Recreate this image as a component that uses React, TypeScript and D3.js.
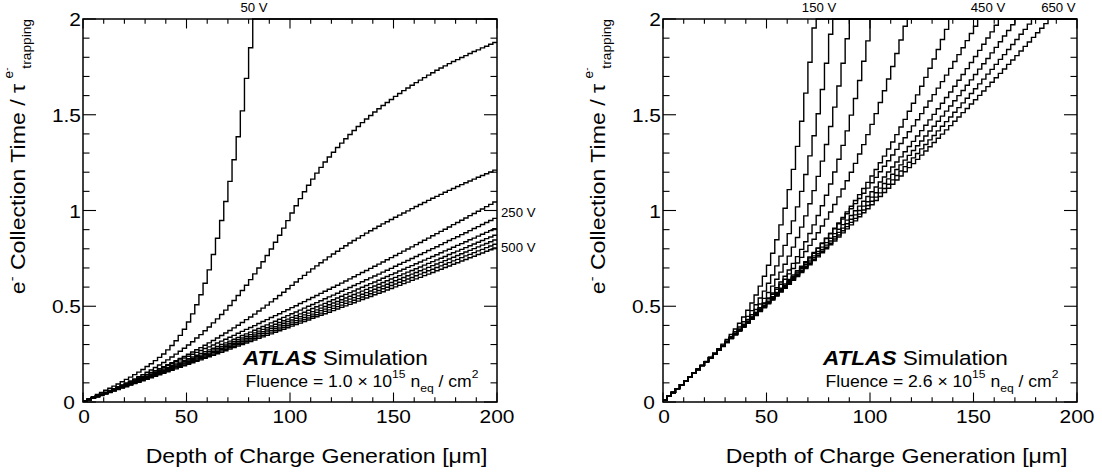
import React from "react";
import * as d3 from "d3";

// ---------- axes ----------
const xTickValues = [0, 50, 100, 150, 200];
const xTickLabels = ["0", "50", "100", "150", "200"];
const yTickValues = [0, 0.5, 1, 1.5, 2];
const yTickLabels = ["0", "0.5", "1", "1.5", "2"];
const binWidth = 2; // μm per histogram bin
const depthMax = 200;
const ratioMax = 2;

// ---------- left panel: fluence 1.0e15 (bin centres 1,3,5,... μm) ----------
const leftVoltages = [50, 100, 150, 200, 250, 300, 350, 400, 450, 500];
const L_050V = [0.006,0.017,0.028,0.039,0.05,0.061,0.072,0.083,0.094,0.106,0.118,0.13,0.143,0.156,0.17,0.185,0.2,0.216,0.233,0.251,0.272,0.295,0.32,0.348,0.38,0.418,0.46,0.508,0.56,0.62,0.69,0.77,0.855,0.948,1.047,1.152,1.265,1.385,1.52,1.69,1.85,2.1];
const L_100V = [0.005,0.014,0.023,0.032,0.041,0.05,0.06,0.069,0.079,0.089,0.099,0.11,0.121,0.132,0.143,0.155,0.167,0.18,0.193,0.206,0.22,0.235,0.25,0.265,0.281,0.298,0.315,0.334,0.352,0.372,0.392,0.413,0.434,0.457,0.48,0.504,0.53,0.556,0.582,0.61,0.639,0.669,0.7,0.732,0.765,0.799,0.834,0.871,0.908,0.947,0.987,1.025,1.062,1.098,1.132,1.164,1.195,1.225,1.253,1.279,1.304,1.329,1.352,1.375,1.397,1.418,1.439,1.459,1.478,1.496,1.514,1.531,1.548,1.564,1.58,1.596,1.611,1.626,1.64,1.654,1.668,1.681,1.694,1.707,1.719,1.732,1.744,1.755,1.767,1.778,1.788,1.799,1.809,1.82,1.83,1.839,1.849,1.858,1.868,1.877];
const L_150V = [0.005,0.014,0.023,0.032,0.041,0.05,0.059,0.068,0.077,0.087,0.096,0.105,0.115,0.125,0.134,0.144,0.154,0.164,0.174,0.184,0.195,0.205,0.216,0.227,0.238,0.249,0.261,0.273,0.284,0.296,0.309,0.321,0.334,0.347,0.36,0.373,0.387,0.401,0.415,0.43,0.444,0.459,0.475,0.49,0.506,0.523,0.539,0.556,0.573,0.591,0.609,0.627,0.644,0.661,0.678,0.695,0.711,0.727,0.742,0.758,0.773,0.787,0.802,0.816,0.83,0.843,0.856,0.869,0.882,0.894,0.906,0.918,0.93,0.941,0.953,0.965,0.976,0.987,0.998,1.01,1.021,1.031,1.042,1.053,1.064,1.074,1.084,1.095,1.105,1.115,1.125,1.135,1.145,1.154,1.164,1.174,1.183,1.192,1.201,1.211];
const L_200V = [0.005,0.014,0.023,0.032,0.041,0.05,0.059,0.068,0.078,0.087,0.096,0.105,0.115,0.124,0.134,0.143,0.153,0.162,0.172,0.181,0.191,0.2,0.21,0.22,0.23,0.239,0.249,0.259,0.269,0.279,0.288,0.298,0.308,0.318,0.328,0.338,0.348,0.359,0.369,0.379,0.389,0.399,0.41,0.42,0.43,0.441,0.451,0.461,0.472,0.482,0.493,0.503,0.514,0.524,0.535,0.546,0.556,0.567,0.578,0.589,0.599,0.61,0.621,0.632,0.643,0.654,0.665,0.676,0.687,0.698,0.709,0.72,0.731,0.743,0.754,0.765,0.776,0.788,0.799,0.81,0.822,0.833,0.845,0.856,0.868,0.879,0.891,0.902,0.914,0.926,0.937,0.949,0.961,0.973,0.984,0.996,1.008,1.02,1.032,1.044];
const L_250V = [0.004,0.013,0.022,0.03,0.039,0.048,0.056,0.065,0.074,0.083,0.091,0.1,0.109,0.118,0.127,0.136,0.145,0.154,0.163,0.172,0.181,0.19,0.199,0.208,0.217,0.226,0.235,0.244,0.254,0.263,0.272,0.281,0.29,0.3,0.309,0.318,0.328,0.337,0.347,0.356,0.365,0.375,0.384,0.394,0.403,0.413,0.422,0.432,0.442,0.451,0.461,0.47,0.48,0.49,0.5,0.509,0.519,0.529,0.539,0.549,0.558,0.568,0.578,0.588,0.598,0.608,0.618,0.628,0.638,0.648,0.658,0.668,0.678,0.688,0.698,0.709,0.719,0.729,0.739,0.749,0.76,0.77,0.78,0.791,0.801,0.811,0.822,0.832,0.843,0.853,0.863,0.874,0.884,0.895,0.906,0.916,0.927,0.937,0.948,0.959];
const L_300V = [0.004,0.013,0.021,0.029,0.038,0.046,0.055,0.063,0.072,0.08,0.089,0.098,0.106,0.115,0.123,0.132,0.141,0.149,0.158,0.166,0.175,0.184,0.193,0.201,0.21,0.219,0.228,0.236,0.245,0.254,0.263,0.272,0.28,0.289,0.298,0.307,0.316,0.325,0.334,0.343,0.352,0.361,0.37,0.379,0.388,0.397,0.406,0.415,0.424,0.433,0.442,0.451,0.46,0.469,0.479,0.488,0.497,0.506,0.515,0.525,0.534,0.543,0.552,0.562,0.571,0.58,0.59,0.599,0.608,0.618,0.627,0.636,0.646,0.655,0.665,0.674,0.684,0.693,0.703,0.712,0.722,0.731,0.741,0.75,0.76,0.769,0.779,0.789,0.798,0.808,0.818,0.827,0.837,0.847,0.856,0.866,0.876,0.886,0.895,0.905];
const L_350V = [0.004,0.012,0.021,0.029,0.037,0.045,0.054,0.062,0.07,0.078,0.087,0.095,0.103,0.112,0.12,0.128,0.137,0.145,0.154,0.162,0.17,0.179,0.187,0.196,0.204,0.213,0.221,0.23,0.238,0.247,0.255,0.264,0.272,0.281,0.29,0.298,0.307,0.315,0.324,0.333,0.341,0.35,0.359,0.367,0.376,0.385,0.393,0.402,0.411,0.42,0.428,0.437,0.446,0.455,0.464,0.472,0.481,0.49,0.499,0.508,0.517,0.525,0.534,0.543,0.552,0.561,0.57,0.579,0.588,0.597,0.606,0.615,0.624,0.633,0.642,0.651,0.66,0.669,0.678,0.687,0.696,0.705,0.715,0.724,0.733,0.742,0.751,0.76,0.77,0.779,0.788,0.797,0.806,0.816,0.825,0.834,0.843,0.853,0.862,0.871];
const L_400V = [0.004,0.012,0.02,0.028,0.036,0.044,0.052,0.06,0.068,0.076,0.085,0.093,0.101,0.109,0.117,0.125,0.133,0.142,0.15,0.158,0.166,0.174,0.183,0.191,0.199,0.207,0.216,0.224,0.232,0.24,0.249,0.257,0.265,0.274,0.282,0.29,0.299,0.307,0.315,0.324,0.332,0.341,0.349,0.357,0.366,0.374,0.383,0.391,0.4,0.408,0.417,0.425,0.434,0.442,0.451,0.459,0.468,0.477,0.485,0.494,0.502,0.511,0.52,0.528,0.537,0.545,0.554,0.563,0.571,0.58,0.589,0.598,0.606,0.615,0.624,0.633,0.641,0.65,0.659,0.668,0.676,0.685,0.694,0.703,0.712,0.721,0.729,0.738,0.747,0.756,0.765,0.774,0.783,0.792,0.801,0.81,0.819,0.828,0.837,0.846];
const L_450V = [0.004,0.012,0.02,0.027,0.035,0.043,0.051,0.059,0.067,0.075,0.082,0.09,0.098,0.106,0.114,0.122,0.13,0.138,0.146,0.154,0.162,0.17,0.178,0.186,0.194,0.202,0.21,0.218,0.226,0.234,0.242,0.25,0.259,0.267,0.275,0.283,0.291,0.299,0.307,0.316,0.324,0.332,0.34,0.348,0.357,0.365,0.373,0.381,0.39,0.398,0.406,0.414,0.423,0.431,0.439,0.448,0.456,0.464,0.473,0.481,0.489,0.498,0.506,0.515,0.523,0.531,0.54,0.548,0.557,0.565,0.574,0.582,0.591,0.599,0.608,0.616,0.625,0.633,0.642,0.65,0.659,0.668,0.676,0.685,0.693,0.702,0.711,0.719,0.728,0.737,0.745,0.754,0.763,0.771,0.78,0.789,0.797,0.806,0.815,0.824];
const L_500V = [0.004,0.011,0.019,0.027,0.034,0.042,0.05,0.057,0.065,0.073,0.08,0.088,0.096,0.103,0.111,0.119,0.127,0.134,0.142,0.15,0.158,0.166,0.173,0.181,0.189,0.197,0.205,0.213,0.22,0.228,0.236,0.244,0.252,0.26,0.268,0.276,0.284,0.292,0.3,0.308,0.316,0.324,0.332,0.34,0.348,0.356,0.364,0.372,0.38,0.388,0.396,0.404,0.412,0.42,0.428,0.437,0.445,0.453,0.461,0.469,0.477,0.486,0.494,0.502,0.51,0.518,0.527,0.535,0.543,0.551,0.56,0.568,0.576,0.585,0.593,0.601,0.609,0.618,0.626,0.635,0.643,0.651,0.66,0.668,0.676,0.685,0.693,0.702,0.71,0.719,0.727,0.736,0.744,0.753,0.761,0.77,0.778,0.787,0.795,0.804];

// ---------- right panel: fluence 2.6e15 ----------
const rightVoltages = [150, 200, 250, 300, 350, 400, 450, 500, 550, 600, 650];
const R_150V = [0.01,0.03,0.05,0.07,0.09,0.11,0.13,0.15,0.171,0.191,0.212,0.234,0.256,0.278,0.302,0.327,0.353,0.381,0.411,0.444,0.479,0.517,0.559,0.605,0.657,0.714,0.777,0.847,0.925,1.012,1.109,1.215,1.335,1.466,1.613,1.774,1.953,2.149];
const R_200V = [0.01,0.03,0.05,0.07,0.09,0.11,0.13,0.15,0.17,0.191,0.211,0.232,0.253,0.275,0.297,0.319,0.342,0.367,0.392,0.419,0.447,0.477,0.508,0.543,0.579,0.62,0.663,0.711,0.762,0.818,0.879,0.946,1.019,1.1,1.188,1.285,1.39,1.505,1.632,1.769,1.92,2.084];
const R_250V = [0.01,0.03,0.05,0.07,0.09,0.11,0.13,0.15,0.17,0.19,0.211,0.231,0.252,0.273,0.294,0.315,0.337,0.359,0.382,0.406,0.431,0.456,0.483,0.512,0.541,0.572,0.605,0.641,0.678,0.719,0.762,0.809,0.859,0.913,0.972,1.035,1.104,1.178,1.258,1.345,1.439,1.54,1.65,1.769,1.897,2.036];
const R_300V = [0.01,0.03,0.05,0.07,0.09,0.11,0.13,0.15,0.17,0.19,0.21,0.231,0.251,0.271,0.292,0.313,0.334,0.355,0.376,0.399,0.421,0.444,0.467,0.492,0.517,0.543,0.569,0.597,0.627,0.657,0.689,0.724,0.759,0.797,0.837,0.88,0.925,0.974,1.025,1.08,1.138,1.201,1.268,1.34,1.416,1.498,1.585,1.679,1.779,1.886,2.0,2.122];
const R_350V = [0.01,0.03,0.05,0.07,0.09,0.11,0.13,0.15,0.17,0.191,0.211,0.231,0.252,0.272,0.293,0.314,0.335,0.356,0.378,0.4,0.422,0.444,0.467,0.491,0.514,0.539,0.563,0.589,0.615,0.641,0.669,0.697,0.726,0.755,0.786,0.818,0.85,0.884,0.919,0.955,0.992,1.031,1.071,1.112,1.155,1.2,1.246,1.295,1.344,1.396,1.45,1.506,1.564,1.625,1.687,1.752,1.82,1.89,1.962,2.038];
const R_400V = [0.01,0.03,0.05,0.07,0.09,0.11,0.13,0.15,0.17,0.19,0.21,0.23,0.251,0.271,0.291,0.312,0.332,0.352,0.373,0.394,0.415,0.436,0.457,0.478,0.499,0.521,0.543,0.565,0.587,0.61,0.633,0.656,0.679,0.703,0.727,0.752,0.776,0.802,0.827,0.854,0.88,0.908,0.935,0.964,0.993,1.022,1.052,1.083,1.115,1.147,1.18,1.214,1.249,1.284,1.321,1.358,1.396,1.436,1.476,1.518,1.56,1.604,1.649,1.695,1.743,1.791,1.841,1.893,1.946,2.0,2.056];
const R_450V = [0.01,0.03,0.05,0.07,0.09,0.11,0.13,0.15,0.171,0.191,0.211,0.232,0.252,0.273,0.293,0.314,0.335,0.356,0.377,0.398,0.419,0.44,0.462,0.484,0.505,0.527,0.55,0.572,0.594,0.617,0.64,0.663,0.686,0.709,0.733,0.757,0.781,0.805,0.83,0.855,0.88,0.905,0.931,0.956,0.983,1.009,1.036,1.063,1.09,1.117,1.145,1.173,1.202,1.231,1.26,1.29,1.319,1.35,1.38,1.411,1.442,1.474,1.506,1.539,1.572,1.605,1.639,1.673,1.707,1.742,1.778,1.814,1.85,1.887,1.924,1.962,2.0,2.039];
const R_500V = [0.01,0.03,0.05,0.07,0.09,0.11,0.13,0.15,0.17,0.191,0.211,0.231,0.251,0.272,0.292,0.313,0.333,0.354,0.374,0.395,0.416,0.437,0.458,0.479,0.5,0.521,0.543,0.564,0.586,0.608,0.629,0.651,0.673,0.696,0.718,0.741,0.763,0.786,0.809,0.832,0.855,0.879,0.902,0.926,0.95,0.974,0.999,1.023,1.048,1.073,1.098,1.123,1.149,1.175,1.201,1.227,1.253,1.28,1.307,1.334,1.361,1.389,1.417,1.445,1.473,1.502,1.531,1.56,1.59,1.619,1.649,1.68,1.71,1.741,1.773,1.804,1.836,1.868,1.901,1.933,1.967,2.0,2.034];
const R_550V = [0.01,0.03,0.05,0.07,0.09,0.11,0.13,0.15,0.17,0.19,0.211,0.231,0.251,0.271,0.291,0.312,0.332,0.352,0.373,0.393,0.414,0.435,0.455,0.476,0.497,0.518,0.539,0.56,0.581,0.602,0.623,0.645,0.666,0.687,0.709,0.731,0.753,0.774,0.796,0.819,0.841,0.863,0.886,0.908,0.931,0.954,0.977,1.0,1.023,1.046,1.07,1.093,1.117,1.141,1.165,1.189,1.214,1.238,1.263,1.288,1.313,1.338,1.363,1.389,1.415,1.44,1.466,1.493,1.519,1.546,1.573,1.6,1.627,1.654,1.682,1.71,1.738,1.766,1.794,1.823,1.852,1.881,1.911,1.94,1.97,2.0,2.03];
const R_600V = [0.01,0.03,0.05,0.07,0.09,0.11,0.13,0.15,0.17,0.19,0.21,0.23,0.251,0.271,0.291,0.311,0.331,0.352,0.372,0.392,0.413,0.433,0.453,0.474,0.494,0.515,0.535,0.556,0.577,0.598,0.618,0.639,0.66,0.681,0.702,0.723,0.744,0.765,0.787,0.808,0.829,0.851,0.872,0.894,0.916,0.938,0.959,0.981,1.003,1.026,1.048,1.07,1.092,1.115,1.137,1.16,1.183,1.206,1.229,1.252,1.275,1.298,1.322,1.345,1.369,1.392,1.416,1.44,1.464,1.488,1.513,1.537,1.562,1.586,1.611,1.636,1.661,1.686,1.712,1.737,1.763,1.789,1.814,1.841,1.867,1.893,1.92,1.946,1.973,2.0,2.027];
const R_650V = [0.01,0.03,0.05,0.07,0.09,0.11,0.13,0.15,0.17,0.19,0.21,0.23,0.25,0.27,0.29,0.311,0.331,0.351,0.371,0.391,0.411,0.432,0.452,0.472,0.492,0.513,0.533,0.553,0.574,0.594,0.615,0.635,0.655,0.676,0.697,0.717,0.738,0.758,0.779,0.8,0.821,0.841,0.862,0.883,0.904,0.925,0.946,0.967,0.988,1.009,1.03,1.052,1.073,1.094,1.116,1.137,1.159,1.18,1.202,1.224,1.245,1.267,1.289,1.311,1.333,1.355,1.377,1.399,1.421,1.443,1.466,1.488,1.511,1.533,1.556,1.578,1.601,1.624,1.647,1.67,1.693,1.716,1.739,1.763,1.786,1.809,1.833,1.857,1.88,1.904,1.928,1.952,1.976,2.0,2.024];

const leftSeries = [L_050V, L_100V, L_150V, L_200V, L_250V, L_300V, L_350V, L_400V, L_450V, L_500V];
const rightSeries = [R_150V, R_200V, R_250V, R_300V, R_350V, R_400V, R_450V, R_500V, R_550V, R_600V, R_650V];

// curve annotations (text + where it sits in data units)
const leftNotes = [
  { text: "50 V", side: "top", at: 82.6 },
  { text: "250 V", side: "right", at: 0.987 },
  { text: "500 V", side: "right", at: 0.809 },
];
const rightNotes = [
  { text: "150 V", side: "top", at: 75.4 },
  { text: "450 V", side: "top", at: 157 },
  { text: "650 V", side: "top", at: 191 },
];

const W = 1102;
const H = 474;
const FONT = "'Liberation Sans', Arial, Helvetica, sans-serif";
const SX = 1.1;
const TOP = 19;
const BOTTOM = 402;

function histPath(values: number[], xs: any, ys: any): string {
  const yy = (v: number) => ys(Math.min(v, ratioMax));
  let d = `M${xs(0)},${yy(values[0])}`;
  values.forEach((v, i) => {
    if (i > 0) d += `V${yy(v)}`;
    d += `H${xs((i + 1) * binWidth)}`;
  });
  if (values[values.length - 1] >= ratioMax && values.length * binWidth < depthMax) {
    d += `H${xs(depthMax)}`;
  }
  return d;
}

function T(props: any) {
  const { x, y, size, anchor = "start", children, weight, italic } = props;
  return (
    <text
      transform={`translate(${x},${y}) scale(${SX},1)`}
      fontSize={size}
      textAnchor={anchor}
      fontWeight={weight}
      fontStyle={italic ? "italic" : undefined}
    >
      {children}
    </text>
  );
}

function Panel(props: any) {
  const { x0, x1, series, notes, fluence } = props;
  const xs = d3.scaleLinear().domain([0, depthMax]).range([x0, x1]);
  const ys = d3.scaleLinear().domain([0, ratioMax]).range([BOTTOM, TOP]);
  const xMinor = d3.range(0, depthMax + 0.001, 10);
  const yMinor = d3.range(0, 21).map((i) => i / 10);

  return (
    <g fontFamily={FONT} fill="#000">
      {/* histograms */}
      {series.map((vals: number[], i: number) => (
        <path key={i} d={histPath(vals, xs, ys)} fill="none" stroke="#000" strokeWidth={1.4} />
      ))}
      {/* frame */}
      <rect x={x0} y={TOP} width={x1 - x0} height={BOTTOM - TOP} fill="none" stroke="#000" strokeWidth={1.5} />
      {/* x ticks */}
      {xMinor.map((v: number) => {
        const major = Math.abs(v % 50) < 1e-6;
        const len = major ? 9.5 : 4.7;
        const x = xs(v);
        return (
          <g key={"x" + v}>
            <line x1={x} x2={x} y1={BOTTOM} y2={BOTTOM - len} stroke="#000" strokeWidth={1.1} />
            <line x1={x} x2={x} y1={TOP} y2={TOP + len} stroke="#000" strokeWidth={1.1} />
          </g>
        );
      })}
      {/* y ticks */}
      {yMinor.map((v: number, i: number) => {
        const major = i % 5 === 0;
        const len = major ? 13 : 6.5;
        const y = ys(v);
        return (
          <g key={"y" + i}>
            <line x1={x0} x2={x0 + len} y1={y} y2={y} stroke="#000" strokeWidth={1.1} />
            <line x1={x1} x2={x1 - len} y1={y} y2={y} stroke="#000" strokeWidth={1.1} />
          </g>
        );
      })}
      {/* tick labels */}
      {xTickValues.map((v, i) => (
        <T key={"xl" + i} x={xs(v) + (v === 0 ? 1 : 0)} y={423} size={19} anchor="middle">{xTickLabels[i]}</T>
      ))}
      {yTickValues.map((v, i) => (
        <T key={"yl" + i} x={x0 - (v === 0 ? 8 : 2)} y={ys(v) + 7} size={19} anchor="end">{yTickLabels[i]}</T>
      ))}
      {/* axis titles */}
      <T x={x1 - 9.5} y={463} size={21} anchor="end">Depth of Charge Generation [μm]</T>
      <g transform={`translate(${x0 - 58},${TOP}) rotate(-90) scale(${SX},1)`}>
        <text x={-59} y={0} fontSize={21} textAnchor="end">
          e<tspan fontSize={13} dy={-9}>-</tspan>
          <tspan dy={9}>{" Collection Time / τ"}</tspan>
        </text>
        <text x={-54} y={-12} fontSize={12.5}>
          e<tspan fontSize={9} dy={-3}>-</tspan>
        </text>
        <text x={0} y={6} fontSize={12.5} textAnchor="end">trapping</text>
      </g>
      {/* ATLAS label */}
      <T x={x0 + 160} y={365} size={20.5}>
        <tspan fontWeight="bold" fontStyle="italic">ATLAS</tspan>
        <tspan>{" Simulation"}</tspan>
      </T>
      <T x={x0 + 162.5} y={387} size={16}>
        {"Fluence = " + fluence + " × 10"}
        <tspan fontSize={11} dy={-9}>15</tspan>
        <tspan dy={9}>{" n"}</tspan>
        <tspan fontSize={11} dy={5}>eq</tspan>
        <tspan dy={-5}>{" / cm"}</tspan>
        <tspan fontSize={11} dy={-9}>2</tspan>
      </T>
      {/* curve notes */}
      {notes.map((n: any, i: number) =>
        n.side === "top" ? (
          <T key={"n" + i} x={xs(n.at)} y={TOP - 7} size={12} anchor="middle">{n.text}</T>
        ) : (
          <T key={"n" + i} x={x1 + 4} y={ys(n.at) + 4.5} size={12}>{n.text}</T>
        )
      )}
    </g>
  );
}

export default function App() {
  return (
    <svg
      width={W}
      height={H}
      viewBox={`0 0 ${W} ${H}`}
      style={{ position: "absolute", left: 0, top: 0, background: "#fff" }}
    >
      <rect x={0} y={0} width={W} height={H} fill="#fff" />
      <Panel x0={83} x1={497} series={leftSeries} notes={leftNotes} fluence="1.0" voltages={leftVoltages} />
      <Panel x0={663} x1={1077} series={rightSeries} notes={rightNotes} fluence="2.6" voltages={rightVoltages} />
    </svg>
  );
}
